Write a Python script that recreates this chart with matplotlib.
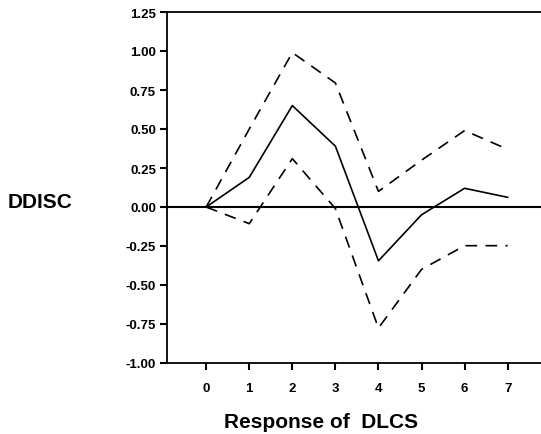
import numpy as np
import matplotlib.pyplot as plt

plt.rcParams['font.family'] = ['Liberation Sans', 'DejaVu Sans']

# impulse response and bands
steps = [0, 1, 2, 3, 4, 5, 6, 7]
response = [0.0, 0.19, 0.65, 0.39, -0.345, -0.05, 0.12, 0.062]
upper = [0.0, 0.50, 0.99, 0.795, 0.10, 0.30, 0.49, 0.37]
lower = [0.0, -0.107, 0.31, -0.01, -0.776, -0.40, -0.248, -0.248]
yticks = [-1.00, -0.75, -0.50, -0.25, 0.00, 0.25, 0.50, 0.75, 1.00, 1.25]

fig = plt.figure(figsize=(5.41, 4.35), dpi=100)
ax = fig.add_axes([167 / 541, 71 / 435, 1 - 167 / 541 + 0.01, 351 / 435])

ax.plot(steps, response, color='black', lw=1.2)
ax.plot(steps, upper, color='black', lw=1.2, dashes=(7, 5))
ax.plot(steps, lower, color='black', lw=1.2, dashes=(7, 5))
ax.axhline(0, color='black', lw=1.5)

ax.set_xlim(-0.91, 7.9)
ax.set_ylim(-1.0, 1.25)
ax.set_xticks(steps)
ax.set_yticks(yticks)
ax.set_yticklabels([f"{v:.2f}" for v in yticks])
ax.spines['right'].set_visible(False)
for s in ['left', 'top', 'bottom']:
    ax.spines[s].set_linewidth(1.3)
ax.tick_params(direction='out', length=5, width=1.5, labelsize=9.5, pad=3)
ax.tick_params(axis='x', pad=9)
for lab in ax.get_xticklabels() + ax.get_yticklabels():
    lab.set_fontweight('bold')

fig.text(40 / 541, 1 - 203 / 435, "DDISC", fontsize=15, fontweight='bold',
         ha='center', va='center')
fig.text(321 / 541, 1 - 423 / 435, "Response of  DLCS", fontsize=15,
         fontweight='bold', ha='center', va='center')

fig.savefig("out.png", dpi=100)
